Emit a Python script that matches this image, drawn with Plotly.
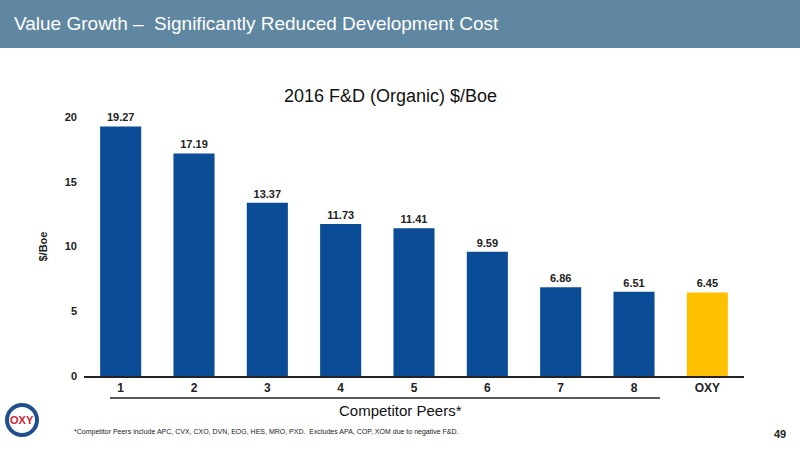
import plotly.graph_objects as go

# chart data
peers = ["1", "2", "3", "4", "5", "6", "7", "8", "OXY"]
fd_cost = [19.27, 17.19, 13.37, 11.73, 11.41, 9.59, 6.86, 6.51, 6.45]
bar_colors = ["#0a4c96"] * 8 + ["#ffc000"]

fig = go.Figure()
fig.add_trace(go.Bar(
    x=peers, y=fd_cost, marker_color=bar_colors, marker_line_width=0,
    text=[f"<b>{v:.2f}</b>" for v in fd_cost], textposition="outside",
    textfont=dict(family="Arial", size=11, color="#222"),
    cliponaxis=False,
))

fig.update_layout(
    width=800, height=450,
    margin=dict(l=0, r=0, t=117, b=74),
    paper_bgcolor="white", plot_bgcolor="white",
    showlegend=False, bargap=0.44,
    font=dict(family="Arial", color="#222"),
    xaxis=dict(domain=[0.105, 0.93], showline=True, linecolor="#222", linewidth=1.5,
               tickvals=peers, ticktext=[f"<b>{p}</b>" for p in peers],
               tickfont=dict(family="Arial", size=12), ticks=""),
    yaxis=dict(range=[0, 20], tickvals=[0, 5, 10, 15, 20],
               ticktext=["<b>0</b>", "<b>5</b>", "<b>10</b>", "<b>15</b>", "<b>20</b>"],
               showgrid=False, zeroline=False, ticklabelstandoff=6,
               tickfont=dict(family="Arial", size=11),
               title=dict(text="<b>$/Boe</b>", font=dict(size=11), standoff=14)),
    shapes=[
        dict(type="rect", xref="paper", yref="paper", x0=0, x1=1, y0=1 + 69 / 259, y1=1 + 117 / 259,
             fillcolor="#5f87a2", line_width=0, layer="below"),
        dict(type="line", xref="paper", yref="paper", x0=110 / 800, x1=660 / 800,
             y0=-22 / 259, y1=-22 / 259, line=dict(color="#222", width=1.5)),
        dict(type="circle", xref="paper", yref="paper", x0=7 / 800, x1=37 / 800,
             y0=-59 / 259, y1=-29 / 259, line=dict(color="#1f4f8f", width=4), layer="below"),
    ],
    annotations=[
        dict(text="Value Growth –  Significantly Reduced Development Cost", xref="paper", yref="paper",
             x=0.015, y=1 + 94 / 259, xanchor="left", yanchor="middle", showarrow=False,
             font=dict(family="Liberation Sans", size=19, color="white")),
        dict(text="2016 F&D (Organic) $/Boe", xref="paper", yref="paper", x=390 / 800, y=1 + 21 / 259,
             xanchor="center", yanchor="middle", showarrow=False,
             font=dict(family="Liberation Sans Narrow, Arial", size=18, color="#111")),
        dict(text="Competitor Peers*", xref="paper", yref="paper", x=400 / 800, y=-34 / 259,
             xanchor="center", yanchor="middle", showarrow=False,
             font=dict(family="Arial", size=15, color="#111")),
        dict(text="*Competitor Peers include APC, CVX, CXO, DVN, EOG, HES, MRO, PXD.  Excludes APA, COP, XOM due to negative F&D.",
             xref="paper", yref="paper", x=72 / 800, y=-56 / 259, xanchor="left", yanchor="middle",
             showarrow=False, font=dict(family="Arial", size=7, color="#222")),
        dict(text="<b>49</b>", xref="paper", yref="paper", x=788 / 800, y=-58 / 259, xanchor="right",
             yanchor="middle", showarrow=False, font=dict(family="Arial", size=11, color="#222")),
        dict(text="<b>OXY</b>", xref="paper", yref="paper", x=22 / 800, y=-44 / 259, xanchor="center",
             yanchor="middle", showarrow=False, font=dict(family="Arial", size=11, color="#d2202f")),
    ],
)

fig.write_html("out.html", config={"displayModeBar": False},
               post_script="document.body.style.margin='0';")
